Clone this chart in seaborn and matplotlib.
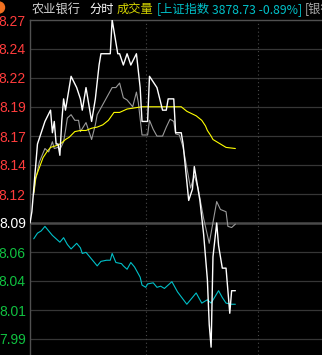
import matplotlib
matplotlib.use("Agg")
import matplotlib.pyplot as plt
from matplotlib import font_manager
from matplotlib.patches import Ellipse
import seaborn as sns
import pandas as pd

W, H = 322, 355

# ---------------- data ----------------
# 农业银行 minute price (white)
white_min = [0, 1, 2, 3, 4, 6, 8, 11, 12, 13,
             14, 15, 16, 17, 18, 19, 20, 22, 25, 27,
             28, 30, 32, 33, 35, 37, 38, 43, 44, 47,
             48, 50, 52, 54, 57, 59, 60, 63, 64, 68,
             71, 73, 74, 77, 78, 81, 82, 85, 87, 88,
             90, 91, 93, 95, 96, 97, 98, 100, 101, 102,
             103, 105, 106, 107, 108, 110]
white_price = [8.09, 8.10, 8.12, 8.14, 8.16, 8.17, 8.18, 8.19, 8.17, 8.18,
               8.16, 8.16, 8.15, 8.18, 8.20, 8.19, 8.20, 8.22, 8.21, 8.20,
               8.19, 8.21, 8.19, 8.18, 8.20, 8.23, 8.24, 8.24, 8.27, 8.24,
               8.24, 8.23, 8.24, 8.23, 8.24, 8.21, 8.18, 8.18, 8.22, 8.21,
               8.19, 8.19, 8.20, 8.20, 8.17, 8.17, 8.16, 8.11, 8.12, 8.14,
               8.12, 8.11, 8.08, 8.04, 8.00, 7.98, 8.06, 8.09, 8.07, 8.06,
               8.05, 8.05, 8.03, 8.01, 8.03, 8.03]

# 均价 average price (yellow)
avg_min = [2, 3, 5, 7, 9, 11, 15, 17, 19, 21,
           24, 27, 30, 33, 36, 39, 42, 45, 48, 52,
           56, 60, 81, 84, 89, 92, 94, 95, 97, 98,
           102, 105, 110]
avg_price = [8.117, 8.130, 8.139, 8.148, 8.153, 8.157, 8.159, 8.161, 8.164, 8.166,
             8.171, 8.172, 8.172, 8.174, 8.175, 8.177, 8.181, 8.188, 8.188, 8.191,
             8.192, 8.193, 8.193, 8.189, 8.185, 8.181, 8.176, 8.172, 8.167, 8.164,
             8.160, 8.157, 8.156]

# 银行 sector overlay (gray)
bank_min = [2, 3, 5, 8, 10, 12, 13, 15, 16, 18,
            19, 20, 22, 24, 26, 27, 30, 31, 33, 35,
            36, 39, 41, 44, 46, 48, 50, 52, 55, 57,
            58, 60, 63, 64, 66, 68, 71, 73, 75, 77,
            78, 80, 82, 85, 86, 88, 90, 93, 96, 100,
            102, 105, 106, 108, 110]
bank_val = [8.115, 8.128, 8.144, 8.156, 8.153, 8.162, 8.156, 8.157, 8.155, 8.162,
            8.172, 8.183, 8.186, 8.181, 8.181, 8.171, 8.179, 8.174, 8.164, 8.177,
            8.186, 8.195, 8.201, 8.210, 8.210, 8.214, 8.201, 8.199, 8.193, 8.206,
            8.197, 8.168, 8.168, 8.181, 8.173, 8.167, 8.167, 8.175, 8.182, 8.180,
            8.169, 8.168, 8.157, 8.130, 8.121, 8.132, 8.121, 8.094, 8.072, 8.109,
            8.102, 8.100, 8.087, 8.086, 8.089]

# 上证指数 overlay (cyan)
sh_min = [2, 4, 6, 8, 11, 12, 16, 18, 20, 22,
          25, 27, 28, 30, 33, 34, 36, 38, 41, 43,
          44, 46, 49, 50, 52, 54, 56, 59, 60, 62,
          63, 66, 68, 70, 72, 76, 79, 84, 89, 92,
          95, 97, 101, 103, 105, 108, 110]
sh_val = [8.076, 8.081, 8.083, 8.087, 8.081, 8.079, 8.073, 8.077, 8.071, 8.067,
          8.072, 8.068, 8.063, 8.064, 8.058, 8.056, 8.052, 8.056, 8.057, 8.057,
          8.063, 8.055, 8.054, 8.052, 8.049, 8.055, 8.051, 8.042, 8.035, 8.033,
          8.036, 8.037, 8.033, 8.034, 8.032, 8.038, 8.029, 8.018, 8.028, 8.019,
          8.022, 8.019, 8.030, 8.024, 8.019, 8.018, 8.018]

y_labels = ["7.99", "8.01", "8.04", "8.06", "8.09", "8.12",
            "8.14", "8.17", "8.19", "8.22", "8.24", "8.27"]
prev_close = 8.09
title_parts = ["农业银行", "分时", "成交量", "[上证指数", "3878.73 -0.89%]", "[银行"]

# ---------------- style ----------------
sns.set_theme(style="dark", rc={"axes.facecolor": "black", "figure.facecolor": "black"})
plt.rcParams['font.family'] = ['Noto Sans CJK SC', 'DejaVu Sans']

names = {f.name for f in font_manager.fontManager.ttflist}
tick_font = 'Liberation Sans Narrow' if 'Liberation Sans Narrow' in names else 'Liberation Sans'

fig = plt.figure(figsize=(W / 100, H / 100), dpi=100, facecolor='black')
ax = fig.add_axes([30 / W, 0, (W - 30) / W, 335 / H])
ax.set_facecolor('black')

PX_PER_MIN = 1.867
STEP = 0.0257
PX = STEP / 29.0
ax.set_ylim(prev_close - 132 * PX, prev_close + 203 * PX)
ax.set_xlim(0, (W - 30) / PX_PER_MIN)

ticks = [prev_close + k * STEP for k in range(-4, 8)]

# grid
for k, t in zip(range(-4, 8), ticks):
    if k == 0:
        ax.axhline(t, color='#4a4a4a', lw=1.8, zorder=1)
    elif k < 7:
        ax.axhline(t, color='#363636', lw=0.9, zorder=1)
for xm in (62, 122):
    ax.axvline(xm, color='#4a4a4a', lw=0.8, linestyle=(0, (1, 2.5)), zorder=1)

# series
lw = 0.8
sns.lineplot(x=bank_min, y=bank_val, ax=ax, color='#9a9a9a', lw=lw, sort=False, estimator=None, zorder=3)
sns.lineplot(x=avg_min, y=avg_price, ax=ax, color='#ffff00', lw=lw, sort=False, estimator=None, zorder=4)
sns.lineplot(x=sh_min, y=sh_val, ax=ax, color='#00c0c8', lw=lw, sort=False, estimator=None, zorder=4)
sns.lineplot(x=white_min, y=white_price, ax=ax, color='#ffffff', lw=1.0, sort=False, estimator=None, zorder=5)

# axes decoration
ax.set_yticks(ticks)
ax.set_yticklabels(y_labels, fontfamily=tick_font, fontsize=10)
for lab, k in zip(ax.get_yticklabels(), range(-4, 8)):
    lab.set_color('#ff3c3c' if k > 0 else ('#ffffff' if k == 0 else '#10c040'))
ax.tick_params(axis='y', length=0, pad=3)
ax.set_xticks([])
ax.set_xlabel('')
ax.set_ylabel('')
for side in ('right', 'bottom'):
    ax.spines[side].set_visible(False)
for side in ('left', 'top'):
    ax.spines[side].set_visible(True)
    ax.spines[side].set_color('#505050')
    ax.spines[side].set_linewidth(1.0)
ax.grid(False)

# header texts
ty = 1 - 9.5 / H
colors = ['#d2d2d2', '#ffffff', '#d2d200', '#00c0c8', '#00c0c8', '#a8a8a8']
xs = [32, 89, 117, 157, 212, 305]
for txt, c, x in zip(title_parts, colors, xs):
    fig.text(x / W, ty, txt, color=c, fontsize=8.8, va='center', ha='left',
             family=['Noto Sans CJK SC', 'DejaVu Sans'])

# small orange badge at top-left corner
fig.patches.append(Ellipse((-1 / W, 1 - 7.5 / H), 11 / W, 11 / H,
                           transform=fig.transFigure, color='#f07020', zorder=10))

fig.savefig('out.png', dpi=100, facecolor='black')
